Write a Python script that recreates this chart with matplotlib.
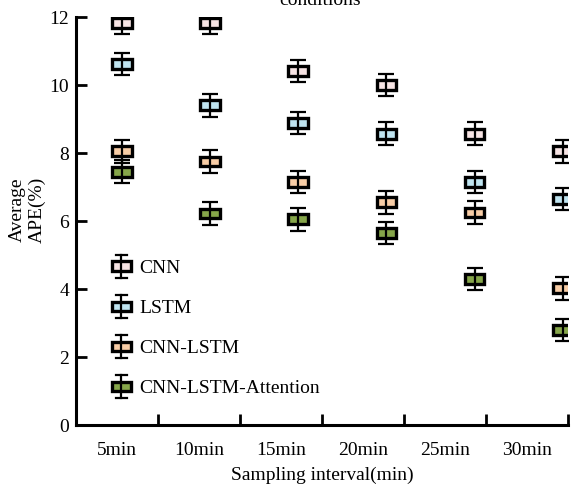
import numpy as np
import matplotlib
matplotlib.use('Agg')
import matplotlib.pyplot as plt
from matplotlib.patches import Rectangle
from matplotlib.lines import Line2D
from matplotlib.legend_handler import HandlerBase

plt.rcParams['font.family'] = ['Liberation Serif', 'DejaVu Serif']
plt.rcParams['font.size'] = 14

# Average APE(%) per model and sampling interval
intervals = ['5min', '10min', '15min', '20min', '25min', '30min']
models = ['CNN', 'LSTM', 'CNN-LSTM', 'CNN-LSTM-Attention']
ape_cnn = [11.82, 11.82, 10.42, 10.0, 8.57, 8.05]
ape_lstm = [10.62, 9.4, 8.88, 8.57, 7.15, 6.65]
ape_cnn_lstm = [8.05, 7.75, 7.15, 6.55, 6.25, 4.02]
ape_att = [7.45, 6.22, 6.05, 5.65, 4.3, 2.8]
ape_err = [0.33, 0.33, 0.33, 0.33]
colors = ['#f7e4e4', '#bfe4f0', '#f8cda6', '#86a64a']

series = [ape_cnn, ape_lstm, ape_cnn_lstm, ape_att]

# marker positions sit a bit right of category centres
xpos = 0.56 + np.arange(len(intervals)) * 1.075
box_w = 0.24
box_h = 0.29

fig = plt.figure(figsize=(5.77, 4.9), dpi=100)
ax = fig.add_axes([76/577, 1-425/490, (568-76)/577, (425-17)/490])

for vals, err, c in zip(series, ape_err, colors):
    for x, y in zip(xpos, vals):
        ax.add_patch(Rectangle((x - box_w/2, y - box_h/2), box_w, box_h,
                               facecolor=c, edgecolor='k', lw=2.4, zorder=3))
    ax.errorbar(xpos, vals, yerr=err, fmt='none', ecolor='k', elinewidth=1.6,
                capsize=5.5, capthick=1.6, zorder=4)


class BoxHandler(HandlerBase):
    def create_artists(self, legend, orig_handle, xdescent, ydescent,
                       width, height, fontsize, trans):
        cx = width/2 - xdescent
        cy = height/2 - ydescent
        bw, bh, wh = 13.5, 6.8, 8.3
        c = orig_handle.get_color()
        box = Rectangle((cx - bw/2, cy - bh/2), bw, bh, facecolor=c,
                        edgecolor='k', lw=2.4, transform=trans)
        stem = Line2D([cx, cx], [cy - wh, cy + wh], color='k', lw=1.6, transform=trans)
        cap1 = Line2D([cx - 4, cx + 4], [cy + wh, cy + wh], color='k', lw=1.6, transform=trans)
        cap2 = Line2D([cx - 4, cx + 4], [cy - wh, cy - wh], color='k', lw=1.6, transform=trans)
        return [box, stem, cap1, cap2]


handles = [Line2D([], [], color=c) for c in colors]
ax.legend(handles, models, handler_map={Line2D: BoxHandler()}, frameon=False,
          loc='upper left', bbox_to_anchor=(0.031, 0.449), handlelength=1.3,
          handletextpad=0.25, labelspacing=1.16, fontsize=14)

ax.set_xlim(0, 6)
ax.set_ylim(0, 12)
ax.set_xticks(np.arange(0, 7))
ax.set_xticklabels([])
ax.set_xticks(np.arange(len(intervals)) + 0.5, minor=True)
ax.set_xticklabels(intervals, minor=True)
ax.tick_params(axis='x', which='minor', length=0, pad=12, labelsize=14)
ax.tick_params(axis='x', which='major', direction='in', length=8, width=2)
ax.set_yticks(np.arange(0, 13, 2))
ax.tick_params(axis='y', direction='in', length=8, width=2, labelsize=14, pad=5)

for s in ['top', 'right']:
    ax.spines[s].set_visible(False)
for s in ['left', 'bottom']:
    ax.spines[s].set_linewidth(2.2)

ax.set_xlabel('Sampling interval(min)', fontsize=14, labelpad=6)
fig.text(27/577, 1 - 210/490, 'Average\nAPE(%)', rotation=90, ha='center', va='center',
         fontsize=14, linespacing=1.2)
fig.text(320/577, 1 - 5/490, 'conditions', ha='center', va='baseline', fontsize=14)

fig.savefig('out.png', dpi=100)
